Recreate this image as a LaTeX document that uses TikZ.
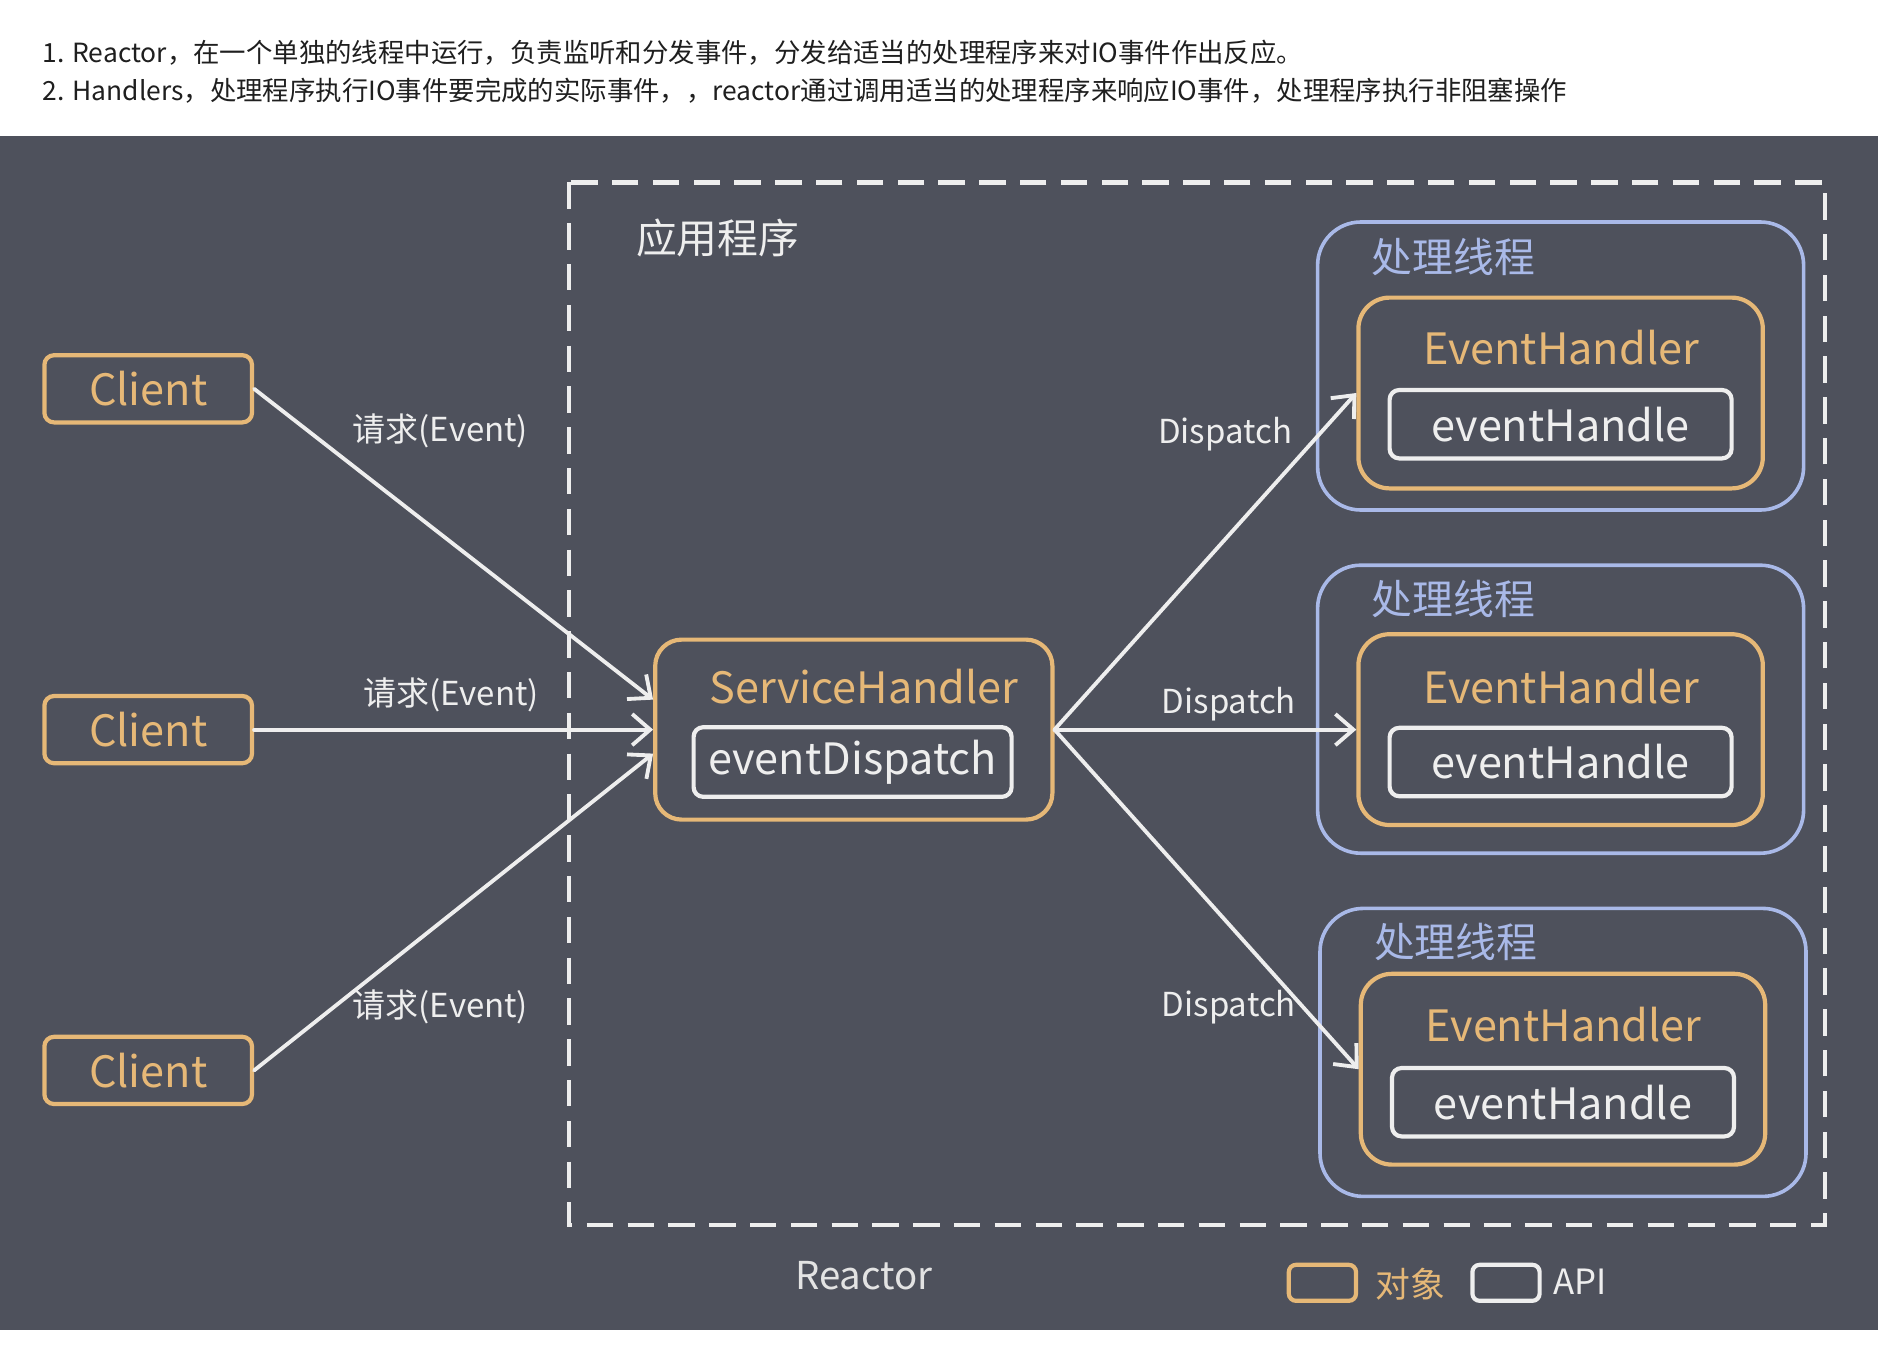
\documentclass[tikz,border=0pt]{standalone}
\usepackage{fontspec}
\setmainfont{Noto Sans CJK SC}
\usetikzlibrary{arrows.meta}
\definecolor{bgdark}{HTML}{4E515C}
\definecolor{objorange}{HTML}{E6B877}
\definecolor{thrblue}{HTML}{A9B9E8}
\definecolor{lblwhite}{HTML}{EEEEEE}

\begin{document}
\begin{tikzpicture}[x=1pt,y=-1pt,
  obj/.style={draw=objorange,line width=3.5pt,rounded corners=#1,inner sep=0pt},
  obj/.default=8pt,
  api/.style={draw=lblwhite,line width=3.5pt,rounded corners=8pt,inner sep=0pt},
  thread/.style={draw=thrblue,line width=3pt,rounded corners=36pt,inner sep=0pt,
    minimum width=405pt,minimum height=240pt},
  ehbox/.style={obj=26pt,minimum width=337pt,minimum height=159pt},
  ehname/.style={text=objorange,font=\fontsize{36}{40}\selectfont},
  apiname/.style={text=lblwhite,font=\fontsize{36}{40}\selectfont},
  edge/.style={font=\fontsize{27.5}{32}\selectfont,text=lblwhite},
  arr/.style={draw=lblwhite,line width=3.2pt,line cap=round,
    -{Straight Barb[length=15pt,width=26pt,line width=3.2pt]}}]
\useasboundingbox (0,0) rectangle (1565,1121.7);
\fill[white] (0,0) rectangle (1565,1121.7);
\fill[bgdark] (0,113) rectangle (1565,1108);

% notes above the picture
\node[anchor=west,text=black!88,font=\fontsize{22}{26}\selectfont] (note1) at (32,44)
  {1. Reactor，在一个单独的线程中运行，负责监听和分发事件，分发给适当的处理程序来对IO事件作出反应。};
\node[anchor=west,text=black!88,font=\fontsize{22}{26}\selectfont] (note2) at (32,76)
  {2. Handlers，处理程序执行IO事件要完成的实际事件，，reactor通过调用适当的处理程序来响应IO事件，处理程序执行非阻塞操作};

% application frame
\draw[lblwhite,line width=3.5pt,dash pattern=on 22pt off 12pt] (474,152) rectangle (1521,1021);
\node[text=lblwhite,font=\fontsize{34}{40}\selectfont] (app) at (598,198) {应用程序};

% clients
\node[obj,minimum width=173pt,minimum height=56pt,ehname] (cl1) at (123.5,324) {Client};
\node[obj,minimum width=173pt,minimum height=56pt,ehname] (cl2) at (123.5,608) {Client};
\node[obj,minimum width=173pt,minimum height=56pt,ehname] (cl3) at (123.5,892) {Client};

% service handler
\node[obj=22pt,minimum width=331pt,minimum height=150pt] (sh) at (711.5,608) {};
\node[ehname] (shname) at (720,572) {ServiceHandler};
\node[api,minimum width=265pt,minimum height=58pt,apiname] (disp) at (710.5,635) {eventDispatch};

% handler threads
\node[thread] (th1) at (1300.5,305) {};
\node[thread] (th2) at (1300.5,591) {};
\node[thread] (th3) at (1302.5,877) {};
\node[text=thrblue,font=\fontsize{34}{40}\selectfont] (th1name) at (1211,214) {处理线程};
\node[text=thrblue,font=\fontsize{34}{40}\selectfont] (th2name) at (1211,499) {处理线程};
\node[text=thrblue,font=\fontsize{34}{40}\selectfont] (th3name) at (1213,785) {处理线程};

\node[ehbox] (eh1) at (1300.5,327.5) {};
\node[ehbox] (eh2) at (1300.5,608) {};
\node[ehbox] (eh3) at (1302.5,891) {};
\node[ehname] (eh1name) at (1301,290) {EventHandler};
\node[ehname] (eh2name) at (1301,572) {EventHandler};
\node[ehname] (eh3name) at (1303,854) {EventHandler};
\node[api,minimum width=285pt,minimum height=57pt,apiname] (hd1) at (1300.5,353.5) {eventHandle};
\node[api,minimum width=285pt,minimum height=57pt,apiname] (hd2) at (1300.5,635) {eventHandle};
\node[api,minimum width=285pt,minimum height=57pt,apiname] (hd3) at (1302.5,918.5) {eventHandle};

% requests
\draw[arr] (cl1.east) -- ([yshift=25pt]sh.west);
\draw[arr] (cl2.east) -- (sh.west);
\draw[arr] (cl3.east) -- ([yshift=-20pt]sh.west);
\node[edge] (rq1) at (367,359) {请求(Event)};
\node[edge] (rq2) at (376,579) {请求(Event)};
\node[edge] (rq3) at (367,839) {请求(Event)};

% dispatch
\draw[arr] (sh.east) -- (eh1.west);
\draw[arr] (sh.east) -- (eh2.west);
\draw[arr] (sh.east) -- (eh3.west);
\node[edge] (dp1) at (1021,362) {Dispatch};
\node[edge] (dp2) at (1024,587) {Dispatch};
\node[edge] (dp3) at (1024,839) {Dispatch};

% caption and legend
\node[text=lblwhite!90!gray,font=\fontsize{32}{36}\selectfont] (reactor) at (720,1063) {Reactor};
\node[obj=6pt,minimum width=56pt,minimum height=30pt] (keyobj) at (1102,1069) {};
\node[text=objorange,font=\fontsize{29}{34}\selectfont] (keyobjname) at (1175,1070) {对象};
\node[api,rounded corners=6pt,minimum width=56pt,minimum height=30pt] (keyapi) at (1255,1069) {};
\node[text=lblwhite,font=\fontsize{29}{34}\selectfont] (keyapiname) at (1317,1068) {API};
\end{tikzpicture}
\end{document}
